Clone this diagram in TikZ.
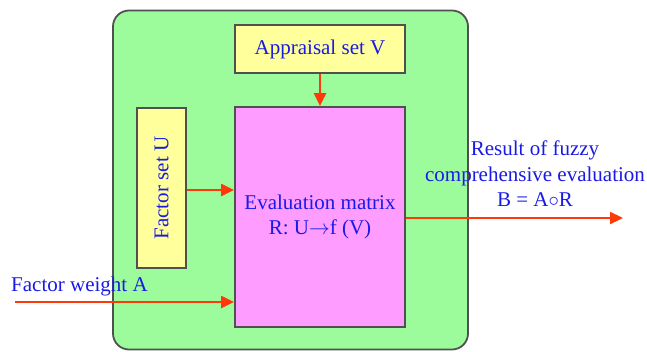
\documentclass[tikz,border=0pt]{standalone}
\usepackage{fontspec}
\setmainfont{Liberation Serif}
\usetikzlibrary{arrows.meta}
\definecolor{bggreen}{HTML}{9CFC9C}
\definecolor{boxyellow}{HTML}{FFFF9C}
\definecolor{boxmag}{HTML}{FF9CFF}
\definecolor{edgegray}{HTML}{505050}
\definecolor{arrred}{HTML}{FF3A0A}
\definecolor{txtblue}{HTML}{1A1AE6}
\tikzset{
  box/.style={draw=edgegray, line width=1.8pt, inner sep=0pt, text=txtblue, align=center},
  arr/.style={draw=arrred, line width=2.2pt, -{Triangle[length=13pt,width=12pt]}},
  lbl/.style={text=txtblue, align=center, inner sep=0pt}
}
\begin{document}
\begin{tikzpicture}[x=1pt,y=-1pt,font=\fontsize{21}{25.5}\selectfont]
\useasboundingbox (0,0) rectangle (647,351);
\node[box, fill=bggreen, rounded corners=16pt, minimum width=355pt, minimum height=339pt] (outer) at (290.5,180) {};
\node[box, fill=boxyellow, minimum width=170pt, minimum height=48pt] (appr) at (320,49) {Appraisal set V};
\node[box, fill=boxmag, minimum width=170pt, minimum height=220pt] (mat) at (320,217) {Evaluation matrix\\R: U$\rightarrow$f (V)};
\node[box, fill=boxyellow, minimum width=49pt, minimum height=160pt] (fu) at (161.5,188) {};
\node[lbl, rotate=90] (fulbl) at (fu.center) {Factor set U};
\coordinate (win) at (15,302);
\coordinate (bout) at (623,218);
\node[lbl, anchor=south west] (fwlbl) at (11,296) {Factor weight A};
\node[lbl] (res) at (535,174) {Result of fuzzy\\comprehensive evaluation\\B = A$\circ$R};
\draw[arr] (appr.south) -- (mat.north);
\draw[arr] (fu.east |- 0,190) -- (mat.west |- 0,190);
\draw[arr] (win) -- (win -| mat.west);
\draw[arr] (mat.east |- bout) -- (bout);
\end{tikzpicture}
\end{document}
